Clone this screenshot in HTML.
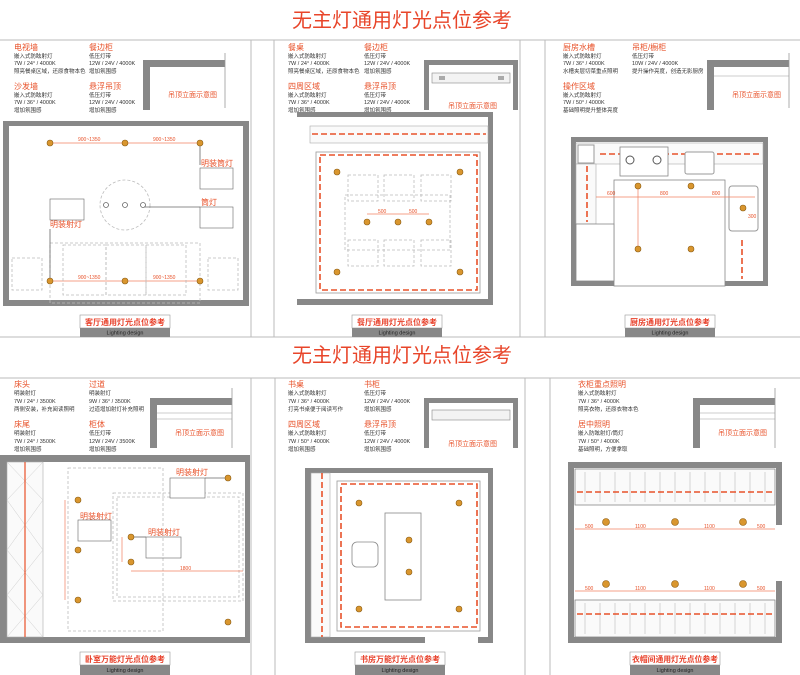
<!DOCTYPE html>
<html><head><meta charset="utf-8"><style>
html,body{margin:0;padding:0;background:#fff}
svg{display:block}
text{font-family:"Liberation Sans","Noto Sans CJK SC",sans-serif}
.t{fill:#e8452a;font-size:20px}
.h{fill:#e8522a;font-size:8px}
.b{fill:#333;font-size:5.5px}
.el{fill:#e8522a;font-size:7px}
.cap{fill:#e8402a;font-size:8px;font-weight:bold}
.ld{fill:#222;font-size:5.5px}
.dim{fill:#e8522a;font-size:5px}
.wall{fill:#888}
.lt{fill:#d9962e;stroke:#8a5a10;stroke-width:0.6}
.dsh{fill:none;stroke:#bbb;stroke-width:0.8;stroke-dasharray:3 2}
.od{fill:none;stroke:#e8522a;stroke-width:1.6;stroke-dasharray:6 3}
.ol{stroke:#f08060;stroke-width:0.7}
.pl{stroke:#bbb;stroke-width:1}
</style></head><body>
<svg width="800" height="675" viewBox="0 0 800 675" xmlns="http://www.w3.org/2000/svg">
<rect width="800" height="675" fill="#fff"/>
<text class="t" x="402" y="27" text-anchor="middle">无主灯通用灯光点位参考</text>
<text class="t" x="402" y="362" text-anchor="middle">无主灯通用灯光点位参考</text>
<line x1="0" y1="40" x2="800" y2="40" class="pl"/>
<line x1="0" y1="337" x2="800" y2="337" class="pl"/>
<line x1="0" y1="378" x2="800" y2="378" class="pl"/>
<g class="pl">
<line x1="251" y1="40" x2="251" y2="337"/><line x1="274" y1="40" x2="274" y2="337"/>
<line x1="520" y1="40" x2="520" y2="337"/><line x1="545" y1="40" x2="545" y2="337"/>
<line x1="251" y1="378" x2="251" y2="675"/><line x1="275" y1="378" x2="275" y2="675"/>
<line x1="525" y1="378" x2="525" y2="675"/><line x1="550" y1="378" x2="550" y2="675"/>
</g>

<g>
<text class="h" x="14" y="50">电视墙</text><text class="b" x="14" y="58">嵌入式防眩射灯</text><text class="b" x="14" y="65">7W / 24° / 4000K</text><text class="b" x="14" y="73">照亮餐桌区域，还原食物本色</text>
<text class="h" x="14" y="89">沙发墙</text><text class="b" x="14" y="97">嵌入式防眩射灯</text><text class="b" x="14" y="104">7W / 36° / 4000K</text><text class="b" x="14" y="112">增加氛围感</text>
<text class="h" x="89" y="50">餐边柜</text><text class="b" x="89" y="58">低压灯带</text><text class="b" x="89" y="65">12W / 24V / 4000K</text><text class="b" x="89" y="73">增加氛围感</text>
<text class="h" x="89" y="89">悬浮吊顶</text><text class="b" x="89" y="97">低压灯带</text><text class="b" x="89" y="104">12W / 24V / 4000K</text><text class="b" x="89" y="112">增加氛围感</text>

<text class="h" x="288" y="50">餐桌</text><text class="b" x="288" y="58">嵌入式防眩射灯</text><text class="b" x="288" y="65">7W / 24° / 4000K</text><text class="b" x="288" y="73">照亮餐桌区域，还原食物本色</text>
<text class="h" x="288" y="89">四周区域</text><text class="b" x="288" y="97">嵌入式防眩射灯</text><text class="b" x="288" y="104">7W / 36° / 4000K</text><text class="b" x="288" y="112">增加氛围感</text>
<text class="h" x="364" y="50">餐边柜</text><text class="b" x="364" y="58">低压灯带</text><text class="b" x="364" y="65">12W / 24V / 4000K</text><text class="b" x="364" y="73">增加氛围感</text>
<text class="h" x="364" y="89">悬浮吊顶</text><text class="b" x="364" y="97">低压灯带</text><text class="b" x="364" y="104">12W / 24V / 4000K</text><text class="b" x="364" y="112">增加氛围感</text>

<text class="h" x="563" y="50">厨房水槽</text><text class="b" x="563" y="58">嵌入式防眩射灯</text><text class="b" x="563" y="65">7W / 36° / 4000K</text><text class="b" x="563" y="73">水槽夹层切菜重点照明</text>
<text class="h" x="563" y="89">操作区域</text><text class="b" x="563" y="97">嵌入式防眩射灯</text><text class="b" x="563" y="104">7W / 50° / 4000K</text><text class="b" x="563" y="112">基础照明提升整体亮度</text>
<text class="h" x="632" y="50">吊柜/橱柜</text><text class="b" x="632" y="58">低压灯带</text><text class="b" x="632" y="65">10W / 24V / 4000K</text><text class="b" x="632" y="73">提升操作亮度，创造无影厨房</text>

<text class="h" x="14" y="387">床头</text><text class="b" x="14" y="395">明装射灯</text><text class="b" x="14" y="403">7W / 24° / 3500K</text><text class="b" x="14" y="411">两侧安装，补充阅读照明</text>
<text class="h" x="14" y="427">床尾</text><text class="b" x="14" y="435">明装射灯</text><text class="b" x="14" y="443">7W / 24° / 3500K</text><text class="b" x="14" y="451">增加氛围感</text>
<text class="h" x="89" y="387">过道</text><text class="b" x="89" y="395">明装射灯</text><text class="b" x="89" y="403">9W / 36° / 3500K</text><text class="b" x="89" y="411">过道增加射灯补充照明</text>
<text class="h" x="89" y="427">柜体</text><text class="b" x="89" y="435">低压灯带</text><text class="b" x="89" y="443">12W / 24V / 3500K</text><text class="b" x="89" y="451">增加氛围感</text>

<text class="h" x="288" y="387">书桌</text><text class="b" x="288" y="395">嵌入式防眩射灯</text><text class="b" x="288" y="403">7W / 36° / 4000K</text><text class="b" x="288" y="411">打亮书桌便于阅读写作</text>
<text class="h" x="288" y="427">四周区域</text><text class="b" x="288" y="435">嵌入式防眩射灯</text><text class="b" x="288" y="443">7W / 50° / 4000K</text><text class="b" x="288" y="451">增加氛围感</text>
<text class="h" x="364" y="387">书柜</text><text class="b" x="364" y="395">低压灯带</text><text class="b" x="364" y="403">12W / 24V / 4000K</text><text class="b" x="364" y="411">增加氛围感</text>
<text class="h" x="364" y="427">悬浮吊顶</text><text class="b" x="364" y="435">低压灯带</text><text class="b" x="364" y="443">12W / 24V / 4000K</text><text class="b" x="364" y="451">增加氛围感</text>

<text class="h" x="578" y="387">衣柜重点照明</text><text class="b" x="578" y="395">嵌入式防眩射灯</text><text class="b" x="578" y="403">7W / 36° / 4000K</text><text class="b" x="578" y="411">照亮衣物，还原衣物本色</text>
<text class="h" x="578" y="427">居中照明</text><text class="b" x="578" y="435">嵌入防眩射灯/筒灯</text><text class="b" x="578" y="443">7W / 50° / 4000K</text><text class="b" x="578" y="451">基础照明，方便拿取</text>
</g>

<g>
<rect x="143" y="60" width="7" height="50" class="wall"/><rect x="143" y="60" width="82" height="7" class="wall"/>
<line x1="225" y1="53" x2="225" y2="108" stroke="#999" stroke-width="0.8"/>
<text class="el" x="168" y="97">吊顶立面示意图</text>

<path d="M424 110 V60 H518 V110 H513 V65 H429 V110 Z" class="wall"/>
<rect x="432" y="73" width="78" height="10" fill="#f3f3f3" stroke="#888" stroke-width="0.6"/>
<rect x="439" y="76" width="6" height="4" fill="#aaa"/><rect x="498" y="76" width="6" height="4" fill="#aaa"/>
<text class="el" x="448" y="108">吊顶立面示意图</text>

<rect x="707" y="60" width="7" height="50" class="wall"/><rect x="707" y="60" width="82" height="7" class="wall"/>
<line x1="714" y1="76" x2="789" y2="76" stroke="#999" stroke-width="0.6"/>
<line x1="789" y1="53" x2="789" y2="108" stroke="#999" stroke-width="0.8"/>
<text class="el" x="732" y="97">吊顶立面示意图</text>

<rect x="150" y="398" width="7" height="50" class="wall"/><rect x="150" y="398" width="82" height="7" class="wall"/>
<line x1="157" y1="413" x2="232" y2="413" stroke="#999" stroke-width="0.6"/><line x1="157" y1="419" x2="232" y2="419" stroke="#999" stroke-width="0.6"/>
<line x1="232" y1="388" x2="232" y2="448" stroke="#999" stroke-width="0.8"/>
<text class="el" x="175" y="435">吊顶立面示意图</text>

<path d="M424 448 V398 H518 V448 H513 V403 H429 V448 Z" class="wall"/>
<rect x="432" y="410" width="78" height="10" fill="#f3f3f3" stroke="#888" stroke-width="0.6"/>
<text class="el" x="448" y="446">吊顶立面示意图</text>

<rect x="693" y="398" width="7" height="50" class="wall"/><rect x="693" y="398" width="82" height="7" class="wall"/>
<line x1="700" y1="413" x2="775" y2="413" stroke="#999" stroke-width="0.6"/><line x1="700" y1="419" x2="775" y2="419" stroke="#999" stroke-width="0.6"/>
<line x1="775" y1="388" x2="775" y2="448" stroke="#999" stroke-width="0.8"/>
<text class="el" x="718" y="435">吊顶立面示意图</text>
</g>

<g>
<rect x="3" y="121" width="246" height="185" class="wall"/><rect x="9" y="126" width="234" height="174" fill="#fff"/>
<line x1="50" y1="143" x2="200" y2="143" class="ol"/><line x1="50" y1="281" x2="200" y2="281" class="ol"/>
<text class="dim" x="78" y="141">900~1350</text><text class="dim" x="153" y="141">900~1350</text>
<text class="dim" x="78" y="279">900~1350</text><text class="dim" x="153" y="279">900~1350</text>
<circle cx="125" cy="205" r="25" class="dsh"/>
<rect x="50" y="243" width="150" height="60" class="dsh"/>
<rect x="63" y="245" width="43" height="50" class="dsh"/><rect x="106" y="245" width="40" height="50" class="dsh"/><rect x="146" y="245" width="40" height="50" class="dsh"/>
<rect x="12" y="258" width="30" height="32" class="dsh"/><rect x="208" y="258" width="30" height="32" class="dsh"/>
<line x1="200" y1="143" x2="200" y2="165" stroke="#666" stroke-width="0.8"/>
<text class="h" x="201" y="166">明装筒灯</text>
<rect x="200" y="168" width="33" height="21" fill="none" stroke="#666" stroke-width="0.6"/>
<line x1="143" y1="207" x2="200" y2="207" stroke="#666" stroke-width="0.8"/>
<text class="h" x="201" y="205">筒灯</text>
<rect x="200" y="207" width="33" height="21" fill="none" stroke="#666" stroke-width="0.6"/>
<rect x="50" y="199" width="34" height="21" fill="none" stroke="#666" stroke-width="0.6"/>
<text class="h" x="50" y="227">明装射灯</text>
<line x1="50" y1="229" x2="50" y2="281" stroke="#666" stroke-width="0.8"/>
<g fill="#fff" stroke="#666" stroke-width="0.8"><circle cx="106" cy="205" r="2.5"/><circle cx="125" cy="205" r="2.5"/><circle cx="143" cy="205" r="2.5"/></g>
<g class="lt"><circle cx="50" cy="143" r="3"/><circle cx="125" cy="143" r="3"/><circle cx="200" cy="143" r="3"/><circle cx="50" cy="281" r="3"/><circle cx="125" cy="281" r="3"/><circle cx="200" cy="281" r="3"/></g>
</g>

<g>
<rect x="297" y="112" width="196" height="193" class="wall"/><rect x="297" y="117" width="191" height="182" fill="#fff"/>
<rect x="310" y="126" width="178" height="17" fill="#fafafa" stroke="#aaa" stroke-width="0.6"/>
<line x1="312" y1="134" x2="486" y2="134" class="od"/>
<rect x="316" y="152" width="164" height="141" fill="#fff" stroke="#999" stroke-width="0.8"/>
<rect x="320" y="155" width="157" height="135" class="od"/>
<rect x="345" y="195" width="105" height="55" class="dsh"/>
<g class="dsh"><rect x="348" y="175" width="30" height="26"/><rect x="384" y="175" width="30" height="26"/><rect x="421" y="175" width="30" height="26"/><rect x="348" y="240" width="30" height="26"/><rect x="384" y="240" width="30" height="26"/><rect x="421" y="240" width="30" height="26"/></g>
<line x1="367" y1="214" x2="429" y2="214" class="ol"/><text class="dim" x="378" y="213">500</text><text class="dim" x="409" y="213">500</text>
<g class="lt"><circle cx="337" cy="172" r="3"/><circle cx="460" cy="172" r="3"/><circle cx="337" cy="272" r="3"/><circle cx="460" cy="272" r="3"/><circle cx="367" cy="222" r="3"/><circle cx="398" cy="222" r="3"/><circle cx="429" cy="222" r="3"/></g>
</g>

<g>
<path d="M571 286 V137 H768 V286 H725 V281 H763 V142 H576 V281 H614 V286 Z" class="wall"/>
<rect x="576" y="143" width="187" height="21" fill="#fafafa" stroke="#aaa" stroke-width="0.6"/>
<line x1="600" y1="154" x2="762" y2="154" class="od"/>
<rect x="620" y="147" width="48" height="29" fill="#fff" stroke="#888" stroke-width="0.8"/>
<circle cx="630" cy="160" r="4" fill="none" stroke="#555"/><circle cx="657" cy="160" r="4" fill="none" stroke="#555"/>
<rect x="685" y="152" width="29" height="22" rx="2" fill="#fff" stroke="#999"/>
<rect x="578" y="145" width="16" height="18" fill="#fff" stroke="#999"/>
<rect x="576" y="164" width="20" height="60" fill="#fafafa" stroke="#aaa" stroke-width="0.6"/>
<line x1="587" y1="166" x2="587" y2="222" class="od"/>
<rect x="614" y="180" width="111" height="106" fill="#fff" stroke="#888" stroke-width="0.8"/>
<rect x="576" y="224" width="38" height="57" fill="#fff" stroke="#888" stroke-width="0.8"/>
<rect x="729" y="186" width="29" height="45" rx="3" fill="#fff" stroke="#999"/>
<line x1="742" y1="240" x2="742" y2="279" class="od"/>
<line x1="596" y1="197" x2="755" y2="197" class="ol"/><line x1="638" y1="186" x2="638" y2="249" class="ol"/>
<text class="dim" x="607" y="195">600</text><text class="dim" x="660" y="195">800</text><text class="dim" x="712" y="195">800</text><text class="dim" x="748" y="218">300</text>
<g class="lt"><circle cx="638" cy="186" r="3"/><circle cx="691" cy="186" r="3"/><circle cx="743" cy="208" r="3"/><circle cx="638" cy="249" r="3"/><circle cx="691" cy="249" r="3"/></g>
</g>

<g>
<rect x="0" y="455" width="250" height="188" class="wall"/><rect x="7" y="462" width="238" height="175" fill="#fff"/>
<rect x="7" y="462" width="36" height="175" fill="#fafafa" stroke="#aaa" stroke-width="0.6"/>
<g stroke="#ccc" stroke-width="0.5"><line x1="7" y1="462" x2="43" y2="500"/><line x1="43" y1="462" x2="7" y2="500"/><line x1="7" y1="500" x2="43" y2="550"/><line x1="43" y1="500" x2="7" y2="550"/><line x1="7" y1="550" x2="43" y2="595"/><line x1="43" y1="550" x2="7" y2="595"/><line x1="7" y1="595" x2="43" y2="637"/><line x1="43" y1="595" x2="7" y2="637"/></g>
<line x1="25" y1="462" x2="25" y2="637" stroke="#e8522a" stroke-width="1.2"/>
<rect x="68" y="468" width="95" height="163" class="dsh"/>
<rect x="113" y="493" width="130" height="108" class="dsh"/><rect x="117" y="497" width="122" height="100" class="dsh"/>
<text class="h" x="80" y="519">明装射灯</text><rect x="78" y="520" width="33" height="21" fill="none" stroke="#666" stroke-width="0.6"/>
<text class="h" x="148" y="535">明装射灯</text><rect x="146" y="537" width="35" height="21" fill="none" stroke="#666" stroke-width="0.6"/>
<text class="h" x="176" y="475">明装射灯</text><rect x="170" y="478" width="35" height="20" fill="#fff" stroke="#666" stroke-width="0.6"/>
<line x1="205" y1="478" x2="228" y2="478" stroke="#666" stroke-width="0.8"/>
<line x1="131" y1="537" x2="146" y2="537" stroke="#666" stroke-width="0.8"/>
<line x1="65" y1="500" x2="65" y2="600" class="ol"/><line x1="122" y1="537" x2="122" y2="562" class="ol"/>
<line x1="131" y1="571" x2="243" y2="571" class="ol"/><text class="dim" x="180" y="570">1800</text>
<g class="lt"><circle cx="78" cy="500" r="3"/><circle cx="78" cy="550" r="3"/><circle cx="78" cy="600" r="3"/><circle cx="131" cy="537" r="3"/><circle cx="131" cy="562" r="3"/><circle cx="228" cy="478" r="3"/><circle cx="228" cy="622" r="3"/></g>
</g>

<g>
<path d="M305 643 V468 H493 V643 H478 V637 H488 V473 H311 V637 H425 V643 Z" class="wall"/>
<rect x="311" y="473" width="19" height="164" fill="#fafafa" stroke="#aaa" stroke-width="0.6"/>
<line x1="322" y1="473" x2="322" y2="637" class="od"/>
<rect x="337" y="481" width="143" height="150" fill="#fff" stroke="#999" stroke-width="0.8"/>
<rect x="341" y="484" width="136" height="143" class="od"/>
<rect x="385" y="513" width="36" height="87" fill="#fff" stroke="#888" stroke-width="0.8"/>
<rect x="352" y="542" width="26" height="25" rx="5" fill="#fff" stroke="#888" stroke-width="0.8"/>
<g class="lt"><circle cx="359" cy="503" r="3"/><circle cx="359" cy="609" r="3"/><circle cx="459" cy="503" r="3"/><circle cx="459" cy="609" r="3"/><circle cx="409" cy="540" r="3"/><circle cx="409" cy="572" r="3"/></g>
</g>

<g>
<path d="M568 643 V462 H782 V525 H776 V468 H574 V637 H776 V581 H782 V643 Z" class="wall"/>
<rect x="575" y="469" width="200" height="36" fill="#fafafa" stroke="#888" stroke-width="0.8"/>
<rect x="575" y="600" width="200" height="37" fill="#fafafa" stroke="#888" stroke-width="0.8"/>
<g stroke="#bbb" stroke-width="0.6">
<line x1="585" y1="472" x2="585" y2="502"/><line x1="600" y1="472" x2="600" y2="502"/><line x1="615" y1="472" x2="615" y2="502"/><line x1="630" y1="472" x2="630" y2="502"/><line x1="645" y1="472" x2="645" y2="502"/><line x1="660" y1="472" x2="660" y2="502"/><line x1="675" y1="472" x2="675" y2="502"/><line x1="690" y1="472" x2="690" y2="502"/><line x1="705" y1="472" x2="705" y2="502"/><line x1="720" y1="472" x2="720" y2="502"/><line x1="735" y1="472" x2="735" y2="502"/><line x1="750" y1="472" x2="750" y2="502"/><line x1="765" y1="472" x2="765" y2="502"/>
<line x1="585" y1="603" x2="585" y2="634"/><line x1="600" y1="603" x2="600" y2="634"/><line x1="615" y1="603" x2="615" y2="634"/><line x1="630" y1="603" x2="630" y2="634"/><line x1="645" y1="603" x2="645" y2="634"/><line x1="660" y1="603" x2="660" y2="634"/><line x1="675" y1="603" x2="675" y2="634"/><line x1="690" y1="603" x2="690" y2="634"/><line x1="705" y1="603" x2="705" y2="634"/><line x1="720" y1="603" x2="720" y2="634"/><line x1="735" y1="603" x2="735" y2="634"/><line x1="750" y1="603" x2="750" y2="634"/><line x1="765" y1="603" x2="765" y2="634"/>
</g>
<line x1="577" y1="492" x2="773" y2="492" class="od"/><line x1="577" y1="614" x2="773" y2="614" class="od"/>
<line x1="575" y1="529" x2="775" y2="529" class="ol"/><line x1="575" y1="591" x2="775" y2="591" class="ol"/>
<text class="dim" x="585" y="528">500</text><text class="dim" x="635" y="528">1100</text><text class="dim" x="704" y="528">1100</text><text class="dim" x="757" y="528">500</text>
<text class="dim" x="585" y="590">500</text><text class="dim" x="635" y="590">1100</text><text class="dim" x="704" y="590">1100</text><text class="dim" x="757" y="590">500</text>
<g class="lt"><circle cx="606" cy="522" r="3.5"/><circle cx="675" cy="522" r="3.5"/><circle cx="743" cy="522" r="3.5"/><circle cx="606" cy="584" r="3.5"/><circle cx="675" cy="584" r="3.5"/><circle cx="743" cy="584" r="3.5"/></g>
</g>

<g>
<rect x="80" y="315" width="90" height="13" fill="#fff" stroke="#999" stroke-width="0.6"/><rect x="80" y="328" width="90" height="9" fill="#888"/>
<text class="cap" x="125" y="325" text-anchor="middle">客厅通用灯光点位参考</text><text class="ld" x="125" y="334.5" text-anchor="middle">Lighting design</text>
<rect x="352" y="315" width="90" height="13" fill="#fff" stroke="#999" stroke-width="0.6"/><rect x="352" y="328" width="90" height="9" fill="#888"/>
<text class="cap" x="397" y="325" text-anchor="middle">餐厅通用灯光点位参考</text><text class="ld" x="397" y="334.5" text-anchor="middle">Lighting design</text>
<rect x="625" y="315" width="90" height="13" fill="#fff" stroke="#999" stroke-width="0.6"/><rect x="625" y="328" width="90" height="9" fill="#888"/>
<text class="cap" x="670" y="325" text-anchor="middle">厨房通用灯光点位参考</text><text class="ld" x="670" y="334.5" text-anchor="middle">Lighting design</text>
<rect x="80" y="652" width="90" height="13" fill="#fff" stroke="#999" stroke-width="0.6"/><rect x="80" y="665" width="90" height="10" fill="#888"/>
<text class="cap" x="125" y="662" text-anchor="middle">卧室万能灯光点位参考</text><text class="ld" x="125" y="672" text-anchor="middle">Lighting design</text>
<rect x="355" y="652" width="90" height="13" fill="#fff" stroke="#999" stroke-width="0.6"/><rect x="355" y="665" width="90" height="10" fill="#888"/>
<text class="cap" x="400" y="662" text-anchor="middle">书房万能灯光点位参考</text><text class="ld" x="400" y="672" text-anchor="middle">Lighting design</text>
<rect x="630" y="652" width="90" height="13" fill="#fff" stroke="#999" stroke-width="0.6"/><rect x="630" y="665" width="90" height="10" fill="#888"/>
<text class="cap" x="675" y="662" text-anchor="middle" textLength="86" lengthAdjust="spacingAndGlyphs">衣帽间通用灯光点位参考</text><text class="ld" x="675" y="672" text-anchor="middle">Lighting design</text>
</g>
</svg>
</body></html>
